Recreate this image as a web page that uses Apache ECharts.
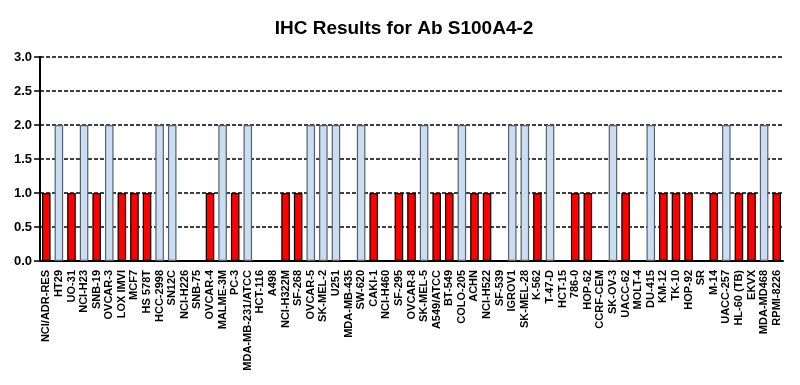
<!DOCTYPE html>
<html><head><meta charset="utf-8">
<script src="https://cdn.jsdelivr.net/npm/echarts@6/dist/echarts.min.js"></script>
<style>html,body{margin:0;padding:0;background:#fff}#c{width:800px;height:385px}</style>
</head><body><div id="c"></div>
<script>
const categories = ["NCI/ADR-RES","HT29","UO-31","NCI-H23","SNB-19","OVCAR-3","LOX IMVI","MCF7","HS 578T","HCC-2998","SN12C","NCI-H226","SNB-75","OVCAR-4","MALME-3M","PC-3","MDA-MB-231/ATCC","HCT-116","A498","NCI-H322M","SF-268","OVCAR-5","SK-MEL-2","U251","MDA-MB-435","SW-620","CAKI-1","NCI-H460","SF-295","OVCAR-8","SK-MEL-5","A549/ATCC","BT-549","COLO-205","ACHN","NCI-H522","SF-539","IGROV1","SK-MEL-28","K-562","T-47-D","HCT-15","786-0","HOP-62","CCRF-CEM","SK-OV-3","UACC-62","MOLT-4","DU-415","KM-12","TK-10","HOP-92","SR","M-14","UACC-257","HL-60 (TB)","EKVX","MDA-MD468","RPMI-8226"];
const values = [1,2,1,2,1,2,1,1,1,2,2,0,0,1,2,1,2,0,0,1,1,2,2,2,0,2,1,0,1,1,2,1,1,2,1,1,0,2,2,1,2,0,1,1,0,2,1,0,2,1,1,1,0,1,2,1,1,2,1];
const yTicks = [0,0.5,1,1.5,2,2.5,3];
const title = "IHC Results for Ab S100A4-2";

const chart = echarts.init(document.getElementById('c'), null, {renderer:'canvas'});
const data = values.map(v => ({
  value: v,
  itemStyle: v >= 2
    ? {color:'#c9ddf3', borderColor:'#5a6068', borderWidth:1.2}
    : (v > 0 ? {color:'#ff0000', borderColor:'#000', borderWidth:1.2} : {borderWidth:0, color:'transparent'})
}));
chart.setOption({
  animation:false,
  title:{text:title, left:399, textAlign:'center', top:14,
    textStyle:{fontFamily:'Liberation Sans, Arial', fontWeight:'bold', fontSize:19, color:'#000'}},
  grid:{left:40, right:17, top:57, bottom:124, containLabel:false},
  xAxis:{type:'category', data:categories, boundaryGap:true,
    axisLine:{lineStyle:{color:'#000', width:2}},
    axisTick:{alignWithLabel:true, length:5, lineStyle:{color:'#000', width:1.5}},
    axisLabel:{rotate:90, interval:0, margin:9, fontFamily:'Liberation Sans, Arial', fontWeight:'bold', fontSize:11, color:'#000'},
    splitLine:{show:false}},
  yAxis:{type:'value', min:yTicks[0], max:yTicks[yTicks.length-1], interval:0.5,
    axisLine:{show:true, lineStyle:{color:'#000', width:2}},
    axisTick:{show:true, length:6, lineStyle:{color:'#000', width:1.5}},
    axisLabel:{formatter:v=>v.toFixed(1), margin:8, fontFamily:'Liberation Sans, Arial', fontWeight:'bold', fontSize:13, color:'#000'},
    splitLine:{show:true, lineStyle:{color:'#000', width:1.5, type:[4,2]}}},
  series:[{type:'bar', data:data, barWidth:'68%'}]
});
</script></body></html>
